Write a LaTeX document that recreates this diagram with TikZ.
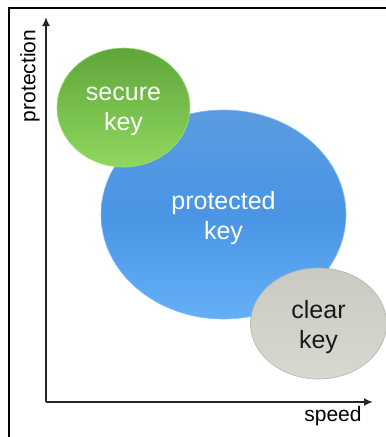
\documentclass[tikz,border=0pt]{standalone}
\usepackage{fontspec}
\setmainfont{Liberation Sans}
\usetikzlibrary{shapes.geometric,arrows.meta}
\definecolor{gtop}{HTML}{5FA53A}
\definecolor{gbot}{HTML}{8FD85F}
\definecolor{btop}{HTML}{5A9BE0}
\definecolor{bmid}{HTML}{4A95E4}
\definecolor{bbot}{HTML}{64B0F7}
\definecolor{graytop}{HTML}{CBCAC2}
\definecolor{graybot}{HTML}{D8D7D0}
\definecolor{grayedge}{HTML}{B5B4AB}
\tikzset{
  blob/.style={ellipse, inner sep=0pt, line width=0.6pt},
  blobtext/.style={inner sep=0pt, align=center,
    font=\fontsize{25}{30}\selectfont, yshift=-4pt},
  axis/.style={line width=2pt, draw=black!85, -{Latex[length=9pt,width=8pt]}},
  axlabel/.style={font=\fontsize{21}{24}\selectfont, inner sep=0pt}
}
\begin{document}
\begin{tikzpicture}[x=1pt,y=-1pt]
\useasboundingbox (0,0) rectangle (386,437);
\clip (0,0) rectangle (386,437);
\draw[line width=1.3pt] (9,8) rectangle (420,470);
% blue
\node[blob, minimum width=245pt, minimum height=209pt,
  top color=btop, bottom color=bbot, middle color=bmid,
  draw=bbot!80!white] (prot) at (223.5,214.5) {};
\node[blobtext, text=white] (prottxt) at (prot.center) {protected\\key};
% green
\node[blob, minimum width=133pt, minimum height=119pt,
  top color=gtop, bottom color=gbot, draw=gbot!85!white] (sec) at (123.5,107.5) {};
\node[blobtext, text=white] (sectxt) at (sec.center) {secure\\key};
% gray
\node[blob, minimum width=136pt, minimum height=111pt,
  top color=graytop, bottom color=graybot, draw=grayedge] (clr) at (318.5,323.5) {};
\node[blobtext, text=black!90] (clrtxt) at (clr.center) {clear\\key};
% axes
\coordinate (o) at (46,402);
\coordinate (ytip) at (46,17);
\coordinate (xtip) at (373,402);
\draw[axis] (o) -- (ytip);
\draw[axis] (o) -- (xtip);
\node[axlabel, rotate=90] (plab) at (30,76) {protection};
\node[axlabel] (slab) at (333,416) {speed};
\end{tikzpicture}
\end{document}
